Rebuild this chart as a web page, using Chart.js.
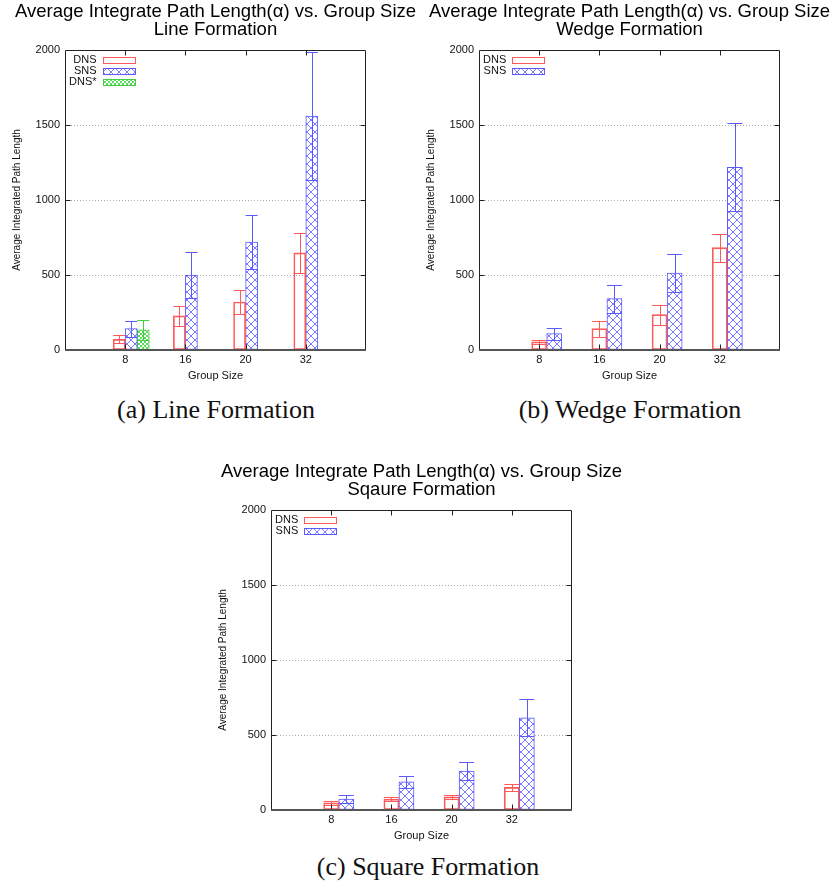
<!DOCTYPE html>
<html>
<head>
<meta charset="utf-8">
<script src="https://cdn.jsdelivr.net/npm/chart.js@4.4.1/dist/chart.umd.min.js"></script>
<style>
    html, body { margin: 0; padding: 0; background: #fff; overflow: hidden; }
    body { width: 838px; height: 887px; position: relative; }
    canvas { position: absolute; }
    .caption {
        position: absolute;
        font-family: "Liberation Serif", "DejaVu Serif", serif;
        font-size: 26px;
        line-height: 28px;
        color: #111;
        transform: translateX(-50%);
        white-space: nowrap;
    }
</style>
</head>
<body>
<canvas id="lineChart" width="417" height="383" style="left:7px;top:0px"></canvas>
<canvas id="wedgeChart" width="417" height="383" style="left:421px;top:0px"></canvas>
<canvas id="squareChart" width="417" height="383" style="left:213px;top:460px"></canvas>
<div class="caption" style="left:216px;top:396px">(a) Line Formation</div>
<div class="caption" style="left:630px;top:396px">(b) Wedge Formation</div>
<div class="caption" style="left:428px;top:853px">(c) Square Formation</div>

<script>
// --- data ---
const groupSizes = ['8', '16', '20', '32'];
const yTicks = [0, 500, 1000, 1500, 2000];

// (a) line formation
const lineDNS = [71, 227, 320, 647];
const lineDNSErr = [26, 68, 80, 132];
const lineSNS = [142, 500, 720, 1560];
const lineSNSErr = [53, 155, 178, 428];
const lineDNSStar = [135, null, null, null];
const lineDNSStarErr = [66, null, null, null];

// (b) wedge formation
const wedgeDNS = [54, 143, 236, 683];
const wedgeDNSErr = [15, 53, 66, 93];
const wedgeSNS = [110, 343, 513, 1218];
const wedgeSNSErr = [40, 93, 125, 293];

// (c) square formation
const squareDNS = [47, 73, 87, 151];
const squareDNSErr = [15, 15, 15, 22];
const squareSNS = [73, 187, 260, 615];
const squareSNSErr = [26, 38, 60, 122];

const FONT = '"Liberation Sans", Arial, sans-serif';
const RED = '#ff5a5a';
const BLUE = '#5a5aff';
const GREEN = '#44cc44';

// crosshatch fill like gnuplot's pattern fills
function hatch(color, size) {
    const c = document.createElement('canvas');
    c.width = size;
    c.height = size;
    const g = c.getContext('2d');
    g.fillStyle = '#fff';
    g.fillRect(0, 0, size, size);
    g.strokeStyle = color;
    g.lineWidth = 1;
    g.beginPath();
    g.moveTo(0, 0); g.lineTo(size, size);
    g.moveTo(size, 0); g.lineTo(0, size);
    g.stroke();
    return g.createPattern(c, 'repeat');
}

const styles = {
    DNS: { backgroundColor: 'rgba(255,255,255,0)', borderColor: RED },
    SNS: { backgroundColor: hatch('#7b7bff', 8), borderColor: BLUE },
    'DNS*': { backgroundColor: hatch('#55dd55', 4), borderColor: GREEN }
};

function series(label, values, errs, slot) {
    const pts = [];
    values.forEach((v, i) => {
        if (v !== null) pts.push({ x: i + 1 + slot, y: v, err: errs[i] });
    });
    return {
        label: label,
        data: pts,
        ...styles[label],
        borderWidth: 1,
        borderSkipped: false,
        grouped: false,
        barPercentage: 1,
        categoryPercentage: 1
    };
}

// --- error bars ---
const errorBars = {
    id: 'errorBars',
    afterDatasetsDraw(chart) {
        const ctx = chart.ctx;
        const yScale = chart.scales.y;
        chart.data.datasets.forEach((d, di) => {
            const meta = chart.getDatasetMeta(di);
            ctx.save();
            ctx.strokeStyle = d.borderColor;
            ctx.lineWidth = 1;
            meta.data.forEach((bar, j) => {
                const pt = d.data[j];
                const hi = Math.round(yScale.getPixelForValue(pt.y + pt.err)) + 0.5;
                const lo = Math.round(yScale.getPixelForValue(pt.y - pt.err)) + 0.5;
                const x = Math.round(bar.x) + 0.5;
                const half = bar.width / 2;
                ctx.beginPath();
                ctx.moveTo(x, lo); ctx.lineTo(x, hi);
                ctx.moveTo(bar.x - half, hi); ctx.lineTo(bar.x + half, hi);
                ctx.moveTo(bar.x - half, lo); ctx.lineTo(bar.x + half, lo);
                ctx.stroke();
            });
            ctx.restore();
        });
    }
};

// --- border box with inward ticks on all four sides ---
const frame = {
    id: 'frame',
    afterDraw(chart) {
        const { ctx, chartArea: a, scales } = chart;
        const L = Math.round(a.left) + 0.5, R = Math.round(a.right) - 0.5;
        const T = Math.round(a.top) + 0.5, B = Math.round(a.bottom) - 0.5;
        ctx.save();
        ctx.strokeStyle = '#222';
        ctx.lineWidth = 1;
        ctx.beginPath();
        ctx.moveTo(L, B); ctx.lineTo(L, T); ctx.lineTo(R, T); ctx.lineTo(R, B);
        yTicks.slice(1, -1).forEach(v => {
            const y = Math.round(scales.y.getPixelForValue(v)) + 0.5;
            ctx.moveTo(L, y); ctx.lineTo(L + 5, y);
            ctx.moveTo(R, y); ctx.lineTo(R - 5, y);
        });
        groupSizes.forEach((g, i) => {
            const x = Math.round(scales.x.getPixelForValue(i + 1)) + 0.5;
            ctx.moveTo(x, T); ctx.lineTo(x, T + 5);
            ctx.moveTo(x, B); ctx.lineTo(x, B - 5);
        });
        ctx.stroke();
        ctx.strokeStyle = '#555';
        ctx.lineWidth = 2;
        ctx.beginPath();
        ctx.moveTo(a.left, Math.round(a.bottom));
        ctx.lineTo(a.right, Math.round(a.bottom));
        ctx.stroke();
        ctx.restore();
    }
};

// --- key in the top-left corner of the plot ---
const key = {
    id: 'gnuKey',
    afterDraw(chart) {
        const { ctx, chartArea } = chart;
        const sets = chart.data.datasets;
        ctx.save();
        ctx.font = '11px ' + FONT;
        const maxW = Math.max(...sets.map(d => ctx.measureText(d.label).width));
        const textRight = chartArea.left + 4 + maxW;
        sets.forEach((d, k) => {
            const y = chartArea.top + 9.5 + k * 11.3;
            ctx.fillStyle = '#111';
            ctx.textAlign = 'right';
            ctx.textBaseline = 'middle';
            ctx.fillText(d.label, textRight, y);
            const bx = Math.round(textRight + 6) + 0.5;
            const by = Math.round(y - 3) + 0.5;
            ctx.fillStyle = d.backgroundColor;
            ctx.fillRect(bx, by, 32, 6);
            ctx.strokeStyle = d.borderColor;
            ctx.lineWidth = 1;
            ctx.strokeRect(bx, by, 32, 6);
        });
        ctx.restore();
    }
};

function makeChart(id, subtitle, sets) {
    return new Chart(document.getElementById(id), {
        type: 'bar',
        data: { datasets: sets },
        options: {
            responsive: false,
            animation: false,
            layout: { padding: 0 },
            plugins: {
                legend: { display: false },
                tooltip: { enabled: false },
                title: {
                    display: true,
                    text: ['Average Integrate Path Length(\u03b1) vs. Group Size', subtitle],
                    color: '#000',
                    font: { family: FONT, size: 18.5, weight: 'normal', lineHeight: 0.973 },
                    padding: { top: 3, bottom: 11 }
                }
            },
            scales: {
                x: {
                    type: 'linear',
                    min: 0,
                    max: 5,
                    offset: false,
                    grid: { display: false, drawTicks: false },
                    border: { display: false },
                    ticks: {
                        stepSize: 1,
                        padding: 3,
                        maxRotation: 0,
                        color: '#111',
                        font: { family: FONT, size: 11 },
                        callback: v => groupSizes[v - 1] || ''
                    },
                    title: {
                        display: true,
                        text: 'Group Size',
                        color: '#111',
                        font: { family: FONT, size: 11 },
                        padding: 0
                    },
                    afterFit: s => { s.height = 33; }
                },
                y: {
                    min: 0,
                    max: 2000,
                    grid: {
                        drawTicks: false,
                        color: c => (c.tick.value > 0 && c.tick.value < 2000) ? '#aaa' : 'rgba(0,0,0,0)'
                    },
                    border: { display: false, dash: [1, 2] },
                    ticks: {
                        stepSize: 500,
                        padding: 5,
                        color: '#111',
                        font: { family: FONT, size: 11 },
                        callback: v => String(v)
                    },
                    title: {
                        display: true,
                        text: 'Average Integrated Path Length',
                        color: '#111',
                        font: { family: FONT, size: 10 },
                        padding: { top: 4, bottom: 0 }
                    },
                    afterFit: s => { s.width = 58; }
                },
                // empty right-hand strip so the title stays centred over the plot
                yRight: {
                    type: 'linear',
                    position: 'right',
                    grid: { display: false, drawTicks: false },
                    border: { display: false },
                    ticks: { display: false },
                    afterFit: s => { s.width = 58; }
                }
            }
        },
        plugins: [errorBars, frame, key]
    });
}

makeChart('lineChart', 'Line Formation', [
    series('DNS', lineDNS, lineDNSErr, -0.1),
    series('SNS', lineSNS, lineSNSErr, 0.1),
    series('DNS*', lineDNSStar, lineDNSStarErr, 0.3)
]);

makeChart('wedgeChart', 'Wedge Formation', [
    series('DNS', wedgeDNS, wedgeDNSErr, 0),
    series('SNS', wedgeSNS, wedgeSNSErr, 0.25)
]);

makeChart('squareChart', 'Sqaure Formation', [
    series('DNS', squareDNS, squareDNSErr, 0),
    series('SNS', squareSNS, squareSNSErr, 0.25)
]);
</script>
</body>
</html>
